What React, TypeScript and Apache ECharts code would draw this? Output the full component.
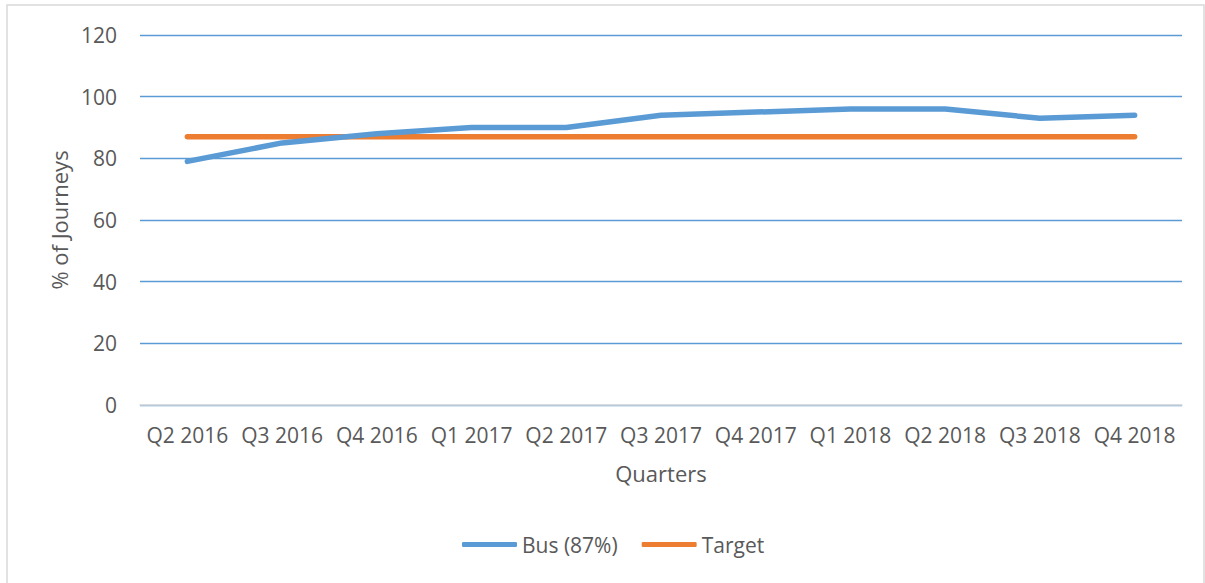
import React, { useEffect, useRef } from "react";
import * as echarts from "echarts";

const categories = ["Q2 2016", "Q3 2016", "Q4 2016", "Q1 2017", "Q2 2017", "Q3 2017", "Q4 2017", "Q1 2018", "Q2 2018", "Q3 2018", "Q4 2018"];
const busValues = [79, 85, 88, 90, 90, 94, 95, 96, 96, 93, 94];
const targetValues = [87, 87, 87, 87, 87, 87, 87, 87, 87, 87, 87];
const busName = "Bus (87%)";
const targetName = "Target";

const FONT = "Open Sans";
const TEXT = "#595959";

export default function App() {
  const ref = useRef<HTMLDivElement>(null);
  useEffect(() => {
    if (!ref.current) return;
    const chart = echarts.init(ref.current, null, { renderer: "svg" });
    chart.setOption({
      animation: false,
      backgroundColor: "#ffffff",
      textStyle: { fontFamily: FONT },
      graphic: [
        {
          type: "rect",
          shape: { x: 7, y: 5, width: 1197, height: 600 },
          style: { fill: "none", stroke: "#d9d9d9", lineWidth: 1.5 },
          silent: true,
        },
      ],
      grid: { left: 140, right: 23, top: 35, bottom: 178 },
      legend: {
        bottom: 23,
        left: 457,
        icon: "roundRect",
        itemWidth: 55,
        itemHeight: 5,
        itemGap: 24,
        textStyle: { fontFamily: FONT, fontSize: 21, color: TEXT, padding: [0, 0, 0, 0] },
        data: [busName, targetName],
      },
      xAxis: {
        type: "category",
        data: categories,
        boundaryGap: true,
        name: "Quarters",
        nameLocation: "middle",
        nameGap: 57,
        nameTextStyle: { fontFamily: FONT, fontSize: 22, color: TEXT },
        axisLine: { show: true, lineStyle: { color: "#d9d9d9", width: 1.5 } },
        axisTick: { show: false },
        axisLabel: { fontFamily: FONT, fontSize: 21, color: TEXT, margin: 19, interval: 0 },
        splitLine: { show: false },
      },
      yAxis: {
        type: "value",
        min: 0,
        max: 120,
        interval: 20,
        name: "% of Journeys",
        nameLocation: "middle",
        nameGap: 67,
        nameTextStyle: { fontFamily: FONT, fontSize: 22, color: TEXT },
        axisLine: { show: false },
        axisTick: { show: false },
        axisLabel: { fontFamily: FONT, fontSize: 21, color: TEXT, margin: 23 },
        splitLine: { show: true, lineStyle: { color: "#5b9bd5", width: 1.4 } },
      },
      series: [
        {
          name: busName,
          type: "line",
          data: busValues,
          showSymbol: false,
          symbol: "none",
          lineStyle: { color: "#5b9bd5", width: 5.5, cap: "round", join: "round" },
          itemStyle: { color: "#5b9bd5" },
          z: 3,
        },
        {
          name: targetName,
          type: "line",
          data: targetValues,
          showSymbol: false,
          symbol: "none",
          lineStyle: { color: "#ed7d31", width: 5.5, cap: "round", join: "round" },
          itemStyle: { color: "#ed7d31" },
          z: 2,
        },
      ],
    });
    return () => chart.dispose();
  }, []);
  return (
    <div
      ref={ref}
      style={{ position: "fixed", left: 0, top: 0, width: 1205, height: 583 }}
    />
  );
}
